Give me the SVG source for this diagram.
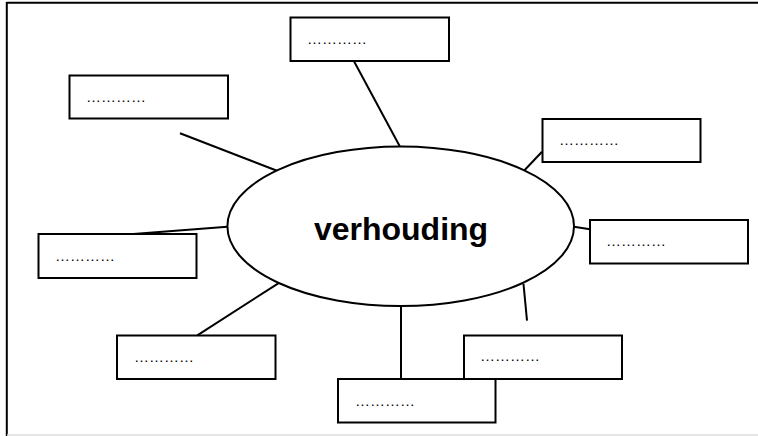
<svg xmlns="http://www.w3.org/2000/svg" width="758" height="436" viewBox="0 0 758 436">
<style>
.box{fill:#fff;stroke:#000;stroke-width:2}
.dots{font-family:"Liberation Sans",Arial,sans-serif;font-size:15px;fill:#000}
.conn{stroke:#000;stroke-width:2;fill:none}
.title{font-family:"Liberation Sans",Arial,sans-serif;font-weight:bold;font-size:32px;fill:#000}
</style>
<rect width="758" height="436" fill="#fff"/>
<g id="frame">
<line x1="6.5" y1="2.8" x2="758" y2="2.8" stroke="#000" stroke-width="2"/>
<line x1="6.8" y1="2" x2="6.8" y2="436" stroke="#000" stroke-width="2"/>
<line x1="7" y1="435" x2="758" y2="435" stroke="#ddd" stroke-width="1.5"/>
</g>
<g id="connectors">
<line class="conn" x1="180" y1="133.3" x2="277" y2="170.7"/>
<line class="conn" x1="354" y1="61.3" x2="400" y2="146.7"/>
<line class="conn" x1="542" y1="151.7" x2="524" y2="170.7"/>
<line class="conn" x1="574" y1="226.7" x2="590" y2="229.3"/>
<line class="conn" x1="133.3" y1="234" x2="227.3" y2="226.7"/>
<line class="conn" x1="197.3" y1="335.3" x2="278.3" y2="283.3"/>
<line class="conn" x1="401" y1="306" x2="401" y2="379"/>
<line class="conn" x1="523.5" y1="284" x2="527" y2="320.7"/>
</g>
<g id="center">
<ellipse cx="400.7" cy="226.3" rx="173.3" ry="79.8" fill="#fff" stroke="#000" stroke-width="2"/>
<text class="title" x="401" y="240" text-anchor="middle">verhouding</text>
</g>
<g id="node-topleft">
<rect class="box" x="69.5" y="75.5" width="158.5" height="43"/>
<text class="dots" x="86" y="102">…………</text>
</g>
<g id="node-top">
<rect class="box" x="290.5" y="17.5" width="158.5" height="43.5"/>
<text class="dots" x="307" y="44">…………</text>
</g>
<g id="node-righttop">
<rect class="box" x="542.5" y="119" width="158" height="43"/>
<text class="dots" x="559" y="145">…………</text>
</g>
<g id="node-right">
<rect class="box" x="590" y="220" width="158" height="43.5"/>
<text class="dots" x="606" y="246">…………</text>
</g>
<g id="node-left">
<rect class="box" x="38.5" y="234" width="158" height="44"/>
<text class="dots" x="55" y="261">…………</text>
</g>
<g id="node-bottomleft">
<rect class="box" x="117" y="335.5" width="158.5" height="43.5"/>
<text class="dots" x="134" y="362">…………</text>
</g>
<g id="node-bottomright">
<rect class="box" x="464" y="335.5" width="158" height="43.5"/>
<text class="dots" x="480" y="361">…………</text>
</g>
<g id="node-bottom">
<rect class="box" x="338" y="379" width="157.5" height="43.5"/>
<text class="dots" x="355" y="406">…………</text>
</g>
</svg>
